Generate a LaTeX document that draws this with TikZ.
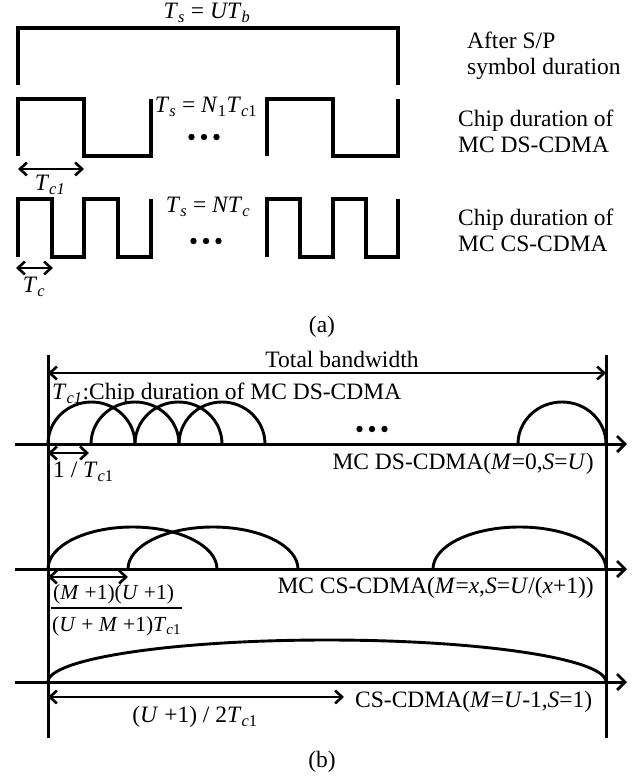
\documentclass[tikz,border=0pt]{standalone}
\usepackage{fontspec}
\setmainfont{Liberation Serif}
\usetikzlibrary{arrows.meta}
\newcommand{\mi}[1]{\textit{#1}}
\newcommand{\sbs}[1]{\textsubscript{#1}}
\newcommand{\humparc}[3]{\draw[hump] (#1,#3) arc[start angle=180,end angle=360,x radius={(#2-#1)/2},y radius=42];}
\newcommand{\tridots}[2]{\foreach \dx in {-12.5,0,12.5} \fill ({#1+\dx},#2) circle[radius=3.2];}
\begin{document}
\begin{tikzpicture}[x=1pt,y=-1pt,
  every node/.style={font=\fontsize{23.5}{26}\selectfont, inner sep=0pt},
  frac/.style={font=\fontsize{21.5}{24}\selectfont},
  wave/.style={line width=3.2pt, line join=miter},
  axis/.style={line width=3pt, -{Straight Barb[length=8pt,width=16pt,line width=2.8pt]}},
  dim/.style={line width=2.8pt, {Straight Barb[length=7pt,width=13pt,line width=2.6pt]}-{Straight Barb[length=7pt,width=13pt,line width=2.6pt]}},
  bound/.style={line width=3pt},
  hump/.style={line width=2.9pt},
  lbl/.style={align=left, anchor=west},
]
\useasboundingbox (0,0) rectangle (642,780);

% ---------------- (a) ----------------
\draw[wave] (18,85) -- (18,28) -- (398,28) -- (398,85);
\node (tsu) at (207,13) {\mi{T}\sbs{\mi{s}} = \mi{UT}\sbs{\mi{b}}};

% row 2
\draw[wave] (18,156) -- (18,99) -- (84,99) -- (84,156) -- (151,156) -- (151,99);
\draw[wave] (267,156) -- (267,99) -- (333,99) -- (333,156) -- (398,156) -- (398,99);
\node (tsn1) at (206,107) {\mi{T}\sbs{\mi{s}} = \mi{N}\sbs{1}\mi{T}\sbs{\mi{c}1}};
\tridots{204}{137}
\coordinate (tca) at (18,169);
\coordinate (tcb) at (84,169);
\draw[dim] (tca) -- (tcb);
\node (tc1) at (50,185) {\mi{T}\sbs{\mi{c1}}};

% row 3
\draw[wave] (18,257) -- (18,199) -- (52,199) -- (52,257) -- (84,257) -- (84,199) -- (118,199) -- (118,257) -- (151,257) -- (151,199);
\draw[wave] (267,257) -- (267,199) -- (300,199) -- (300,257) -- (333,257) -- (333,199) -- (366,199) -- (366,257) -- (398,257) -- (398,199);
\node (tsn) at (208,207) {\mi{T}\sbs{\mi{s}} = \mi{NT}\sbs{\mi{c}}};
\tridots{206}{241}
\coordinate (tsa) at (16,268);
\coordinate (tsb) at (53,268);
\draw[dim] (tsa) -- (tsb);
\node (tc) at (34,287) {\mi{T}\sbs{\mi{c}}};

% right labels
\node[lbl] (l1) at (467,56) {After S/P\\symbol duration};
\node[lbl] (l2) at (458,131) {Chip duration of\\MC DS-CDMA};
\node[lbl] (l3) at (458,230) {Chip duration of\\MC CS-CDMA};

\node (capa) at (322,327) {(a)};

% ---------------- (b) ----------------
\coordinate (lt) at (48,355);
\coordinate (lb) at (48,738);
\coordinate (rt) at (606,355);
\coordinate (rb) at (606,738);
\draw[bound] (lt) -- (lb);
\draw[bound] (rt) -- (rb);
\coordinate (twa) at (48,373);
\coordinate (twb) at (606,373);
\draw[dim] (twa) -- (twb);
\node (tbw) at (342,359) {Total bandwidth};
\node[anchor=west] (tcdef) at (52,394) {\mi{T}\sbs{\mi{c1}}:Chip duration of MC DS-CDMA};

% axis 1
\coordinate (a1s) at (15,444);
\coordinate (a1e) at (627,444);
\draw[axis] (a1s) -- (a1e);
\humparc{48}{135}{444}
\humparc{91}{179}{444}
\humparc{135}{222}{444}
\humparc{179}{265}{444}
\humparc{518}{606}{444}
\tridots{372}{429}
\coordinate (fa) at (48,453);
\coordinate (fb) at (89,453);
\draw[dim] (fa) -- (fb);
\node[anchor=west] (ftc) at (53,472) {1 / \mi{T}\sbs{\mi{c}1}};
\node[anchor=east] (mcds) at (594,464) {MC DS-CDMA(\mi{M}=0,\mi{S}=\mi{U})};

% axis 2
\coordinate (a2s) at (15,569);
\coordinate (a2e) at (627,569);
\draw[axis] (a2s) -- (a2e);
\humparc{48}{217}{569}
\humparc{128}{298}{569}
\humparc{433}{606}{569}
\coordinate (ga) at (48,577);
\coordinate (gb) at (128,577);
\draw[dim] (ga) -- (gb);
\node[frac, anchor=west] (num) at (53,594) {(\mi{M} +1)(\mi{U} +1)};
\node[frac, anchor=west] (den) at (52,626) {(\mi{U} + \mi{M} +1)\mi{T}\sbs{\mi{c}1}};
\coordinate (bara) at (51,608);
\coordinate (barb) at (182,608);
\draw[line width=1.8pt] (bara) -- (barb);
\node[anchor=east] (mccs) at (594,588) {MC CS-CDMA(\mi{M}=\mi{x},\mi{S}=\mi{U}/(\mi{x}+1))};

% axis 3
\coordinate (a3s) at (15,682);
\coordinate (a3e) at (627,682);
\draw[axis] (a3s) -- (a3e);
\humparc{48}{606}{682}
\coordinate (ha) at (48,697);
\coordinate (hb) at (344,697);
\draw[dim] (ha) -- (hb);
\node (hl) at (195,717) {(\mi{U} +1) / 2\mi{T}\sbs{\mi{c}1}};
\node[anchor=west] (cs) at (355,702) {CS-CDMA(\mi{M}=\mi{U}-1,\mi{S}=1)};

\node (capb) at (322,762) {(b)};
\end{tikzpicture}
\end{document}
